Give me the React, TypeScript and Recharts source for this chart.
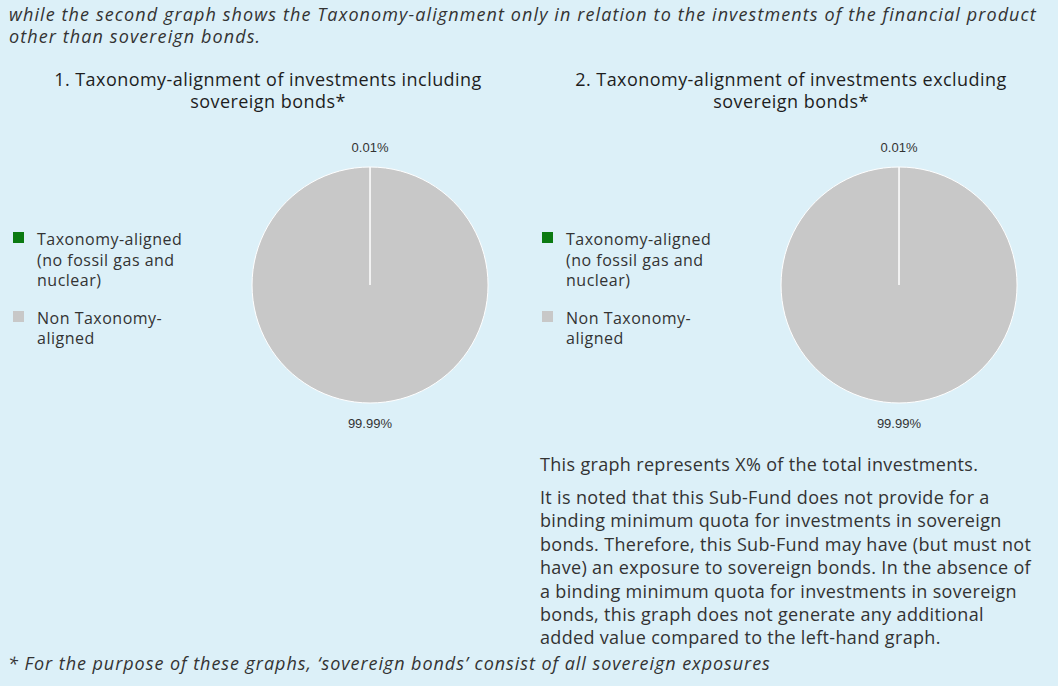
import React from 'react';
import { PieChart, Pie, Cell } from 'recharts';

// shares of investments, in %
const categories = ['Taxonomy-aligned (no fossil gas and nuclear)', 'Non Taxonomy-aligned'];
const includingSovereign = [0.01, 99.99];
const excludingSovereign = [0.01, 99.99];
const sliceColors = ['#0b7a12', '#c8c8c8'];

const legendLines = [
  ['Taxonomy-aligned', '(no fossil gas and', 'nuclear)'],
  ['Non Taxonomy-', 'aligned'],
];

const chartTitles = [
  ['1. Taxonomy-alignment of investments including', 'sovereign bonds*'],
  ['2. Taxonomy-alignment of investments excluding', 'sovereign bonds*'],
];

const introLines = [
  'while the second graph shows the Taxonomy-alignment only in relation to the investments of the financial product',
  'other than sovereign bonds.',
];

const noteLines = [
  'It is noted that this Sub-Fund does not provide for a',
  'binding minimum quota for investments in sovereign',
  'bonds. Therefore, this Sub-Fund may have (but must not',
  'have) an exposure to sovereign bonds. In the absence of',
  'a binding minimum quota for investments in sovereign',
  'bonds, this graph does not generate any additional',
  'added value compared to the left-hand graph.',
];

const BG = '#dcf0f8';
const TEXT = '#333333';

const toRows = (values: number[]) => categories.map((name, i) => ({ name, value: values[i] }));

const PctLabel = (props: any) => {
  const { x, y, value } = props;
  return (
    <text x={x} y={y} textAnchor="middle" dominantBaseline="central" fill={TEXT}
      style={{ fontFamily: 'Liberation Sans', fontSize: 13 }}>
      {value.toFixed(2)}%
    </text>
  );
};

const LegendBlock = ({ left, top }: { left: number; top: number }) => (
  <div style={{ position: 'absolute', left, top, fontSize: 16, lineHeight: '20.5px', letterSpacing: 0.5, color: TEXT }}>
    {legendLines.map((lines, i) => (
      <div key={i} style={{ position: 'relative', paddingLeft: 24, marginBottom: i === 0 ? 17 : 0 }}>
        <span style={{ position: 'absolute', left: 0, top: 3, width: 11, height: 11, background: sliceColors[i] }} />
        {lines.map((l) => (
          <div key={l}>{l}</div>
        ))}
      </div>
    ))}
  </div>
);

const Title = ({ center, lines }: { center: number; lines: string[] }) => (
  <div style={{ position: 'absolute', left: center - 260, top: 68, width: 520, textAlign: 'center',
    fontSize: 18, lineHeight: '22px', letterSpacing: 0.45, color: '#1e1e1e' }}>
    {lines.map((l) => (
      <div key={l}>{l}</div>
    ))}
  </div>
);

export default function App() {
  return (
    <div style={{ position: 'absolute', left: 0, top: 0, width: 1058, height: 686, background: BG,
      fontFamily: '"Open Sans"', color: TEXT, overflow: 'hidden', whiteSpace: 'nowrap' }}>
      <div style={{ position: 'absolute', left: 9, top: 3, fontSize: 18, lineHeight: '22px', letterSpacing: 1.1,
        fontStyle: 'italic' }}>
        {introLines.map((l) => (
          <div key={l}>{l}</div>
        ))}
      </div>

      <Title center={268} lines={chartTitles[0]} />
      <Title center={791} lines={chartTitles[1]} />

      <div style={{ position: 'absolute', left: 0, top: 0 }}>
        <PieChart width={1058} height={460} margin={{ top: 0, right: 0, bottom: 0, left: 0 }}>
          <Pie data={toRows(includingSovereign)} dataKey="value" nameKey="name" cx={370} cy={285}
            outerRadius={118} startAngle={90} endAngle={-270} stroke="#ffffff" strokeWidth={1}
            label={PctLabel} labelLine={false} isAnimationActive={false}>
            {sliceColors.map((c) => (
              <Cell key={c} fill={c} />
            ))}
          </Pie>
          <Pie data={toRows(excludingSovereign)} dataKey="value" nameKey="name" cx={899} cy={285}
            outerRadius={118} startAngle={90} endAngle={-270} stroke="#ffffff" strokeWidth={1}
            label={PctLabel} labelLine={false} isAnimationActive={false}>
            {sliceColors.map((c) => (
              <Cell key={c} fill={c} />
            ))}
          </Pie>
        </PieChart>
      </div>

      <LegendBlock left={13} top={229} />
      <LegendBlock left={542} top={229} />

      <div style={{ position: 'absolute', left: 540, top: 453, fontSize: 18, lineHeight: '23.4px', letterSpacing: 0.33 }}>
        <div style={{ marginBottom: 9.5 }}>This graph represents X% of the total investments.</div>
        {noteLines.map((l) => (
          <div key={l}>{l}</div>
        ))}
      </div>

      <div style={{ position: 'absolute', left: 8, top: 652, fontSize: 18, lineHeight: '22px', letterSpacing: 0.95,
        fontStyle: 'italic' }}>
        * For the purpose of these graphs, ‘sovereign bonds’ consist of all sovereign exposures
      </div>
    </div>
  );
}
